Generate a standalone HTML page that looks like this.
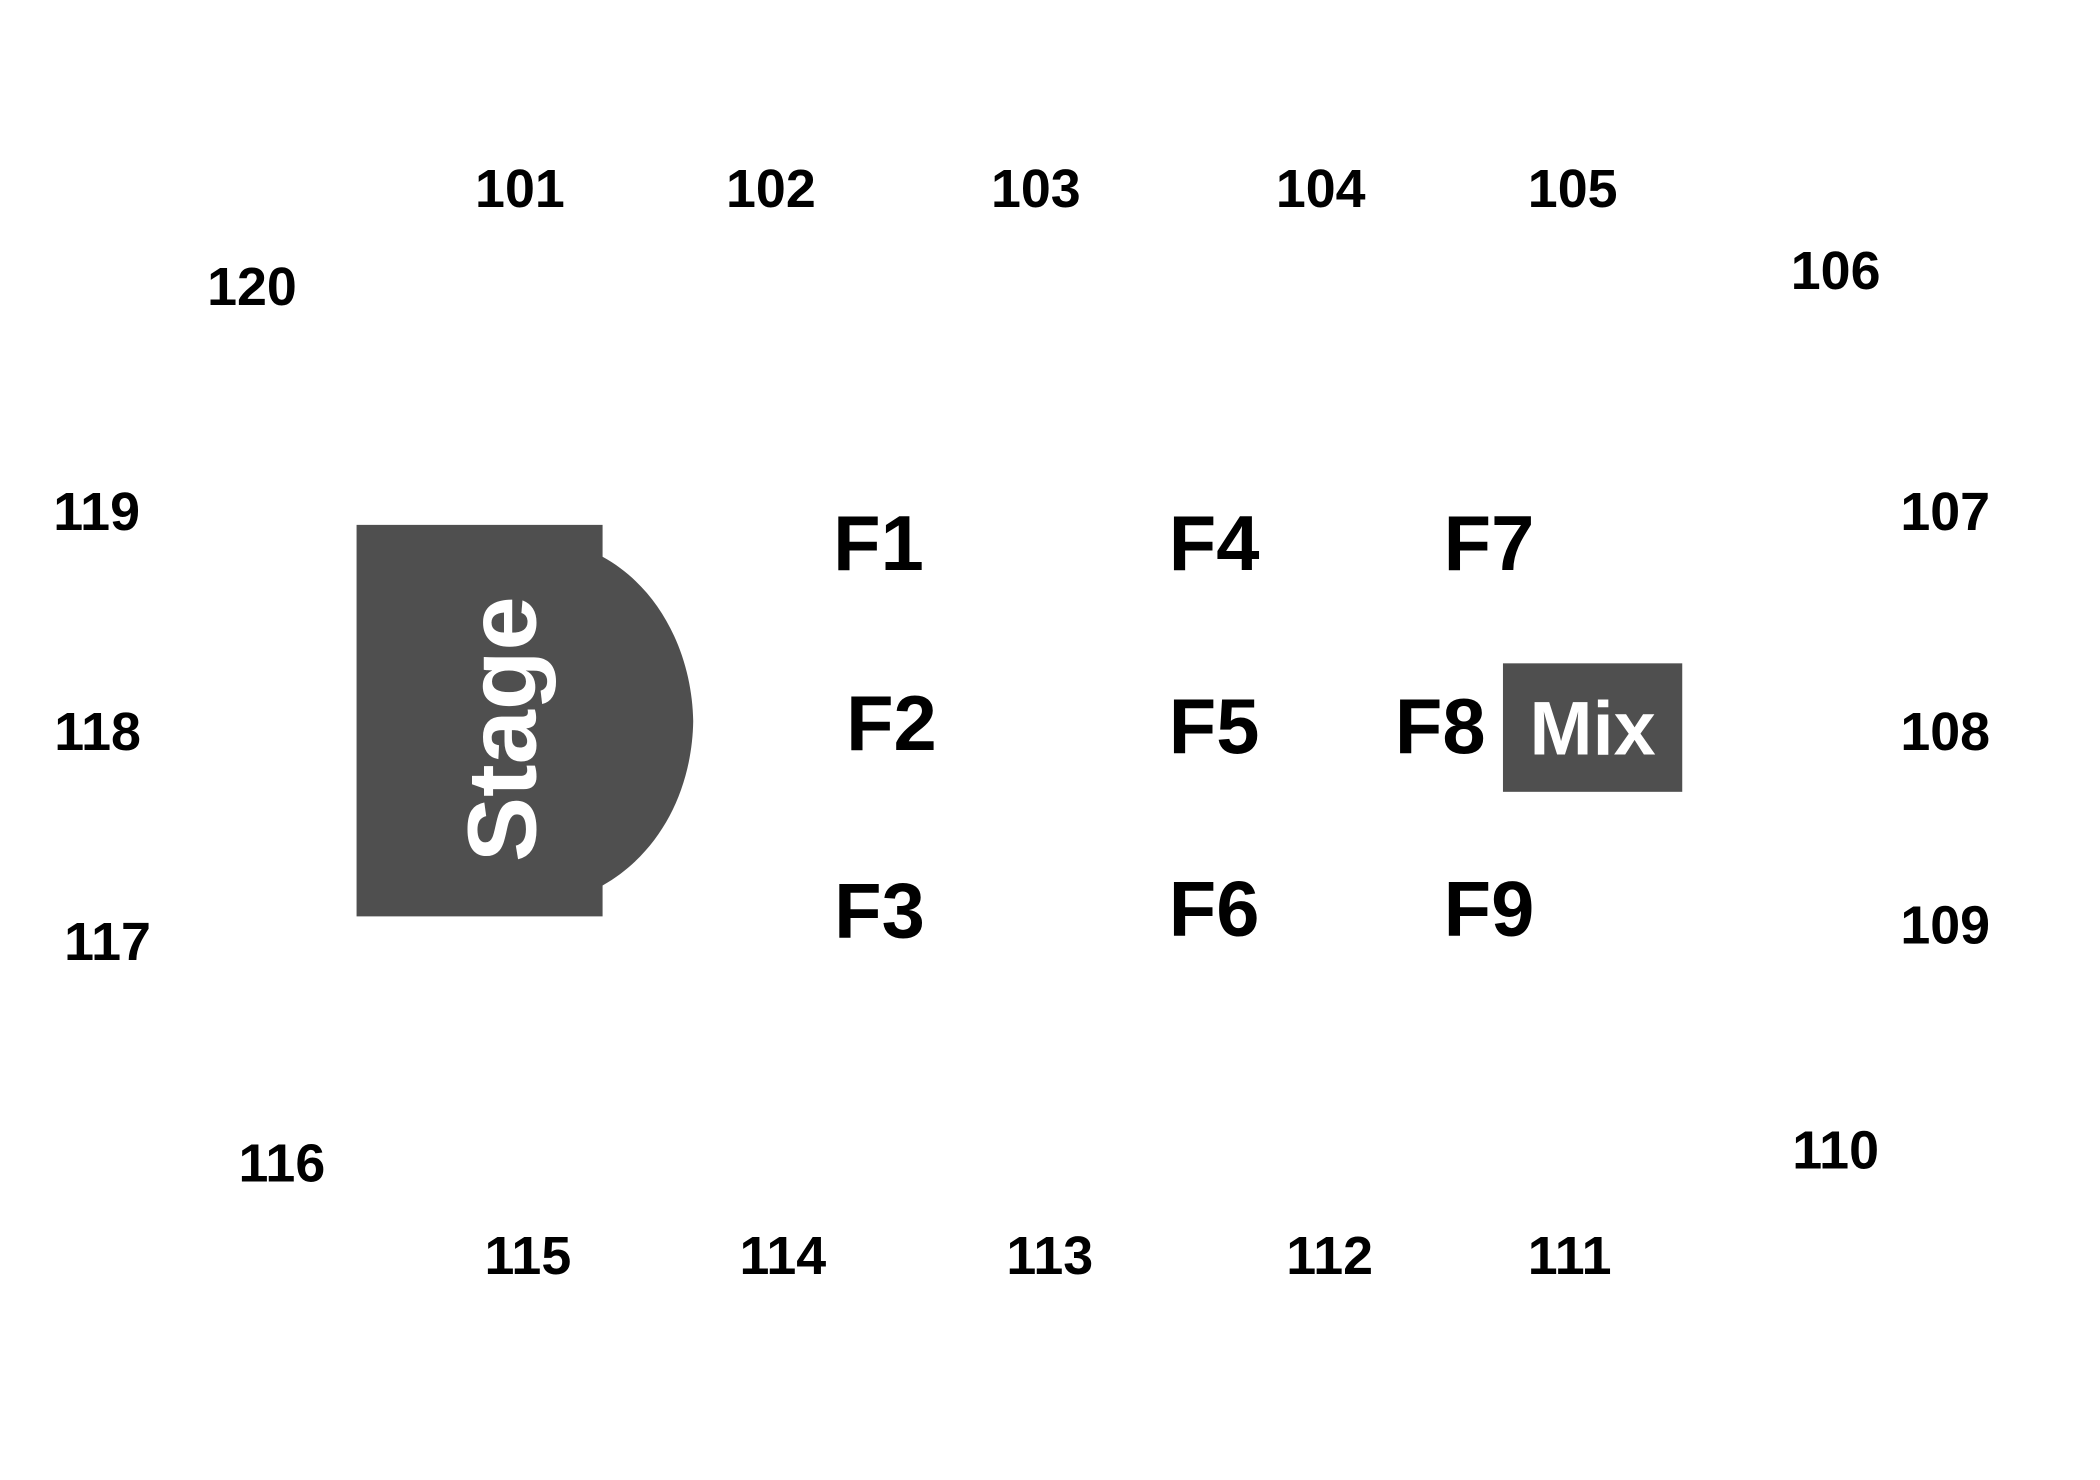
<!DOCTYPE html>
<html><head><meta charset="utf-8"><style>html,body{margin:0;padding:0;background:#fff}svg{display:block}</style></head>
<body>
<svg width="2100" height="1480" viewBox="0 0 2100 1480" xmlns="http://www.w3.org/2000/svg">
<rect width="2100" height="1480" fill="#fff"/>
<g transform="scale(0.996)">
<path d="M358,527 H605 V559 C665,592 695,660 696,724 C695,790 665,855 605,889 V920 H358 Z" fill="#4f4f4f"/>
<text x="0" y="0" transform="translate(504,732) rotate(-90)" text-anchor="middle" dominant-baseline="central" font-family="Liberation Sans, sans-serif" font-weight="bold" font-size="98" fill="#fff">Stage</text>
<rect x="1509" y="666" width="180" height="129" fill="#4f4f4f"/>
<text x="1599" y="732" text-anchor="middle" dominant-baseline="central" font-family="Liberation Sans, sans-serif" font-weight="bold" font-size="76" fill="#fff">Mix</text>
<g font-family="Liberation Sans, sans-serif" font-weight="bold" font-size="54" fill="#000" text-anchor="middle" dominant-baseline="central">
<text x="522" y="190">101</text><text x="774" y="190">102</text><text x="1040" y="190">103</text><text x="1326" y="190">104</text><text x="1579" y="190">105</text>
<text x="1843" y="272">106</text><text x="253" y="288">120</text>
<text x="97" y="514">119</text><text x="98" y="735">118</text><text x="108" y="946">117</text>
<text x="283" y="1168">116</text>
<text x="530" y="1261">115</text><text x="786" y="1261">114</text><text x="1054" y="1261">113</text><text x="1335" y="1261">112</text><text x="1576" y="1261">111</text>
<text x="1843" y="1155">110</text>
<text x="1953" y="514">107</text><text x="1953" y="735">108</text><text x="1953" y="929">109</text>
</g>
<g font-family="Liberation Sans, sans-serif" font-weight="bold" font-size="78" fill="#000" text-anchor="middle" dominant-baseline="central">
<text x="882" y="546">F1</text><text x="1219" y="546">F4</text><text x="1495" y="546">F7</text>
<text x="895" y="727">F2</text><text x="1219" y="730">F5</text><text x="1446" y="730">F8</text>
<text x="883" y="915">F3</text><text x="1219" y="913">F6</text><text x="1495" y="913">F9</text>
</g>
</g>
</svg>
</body></html>
